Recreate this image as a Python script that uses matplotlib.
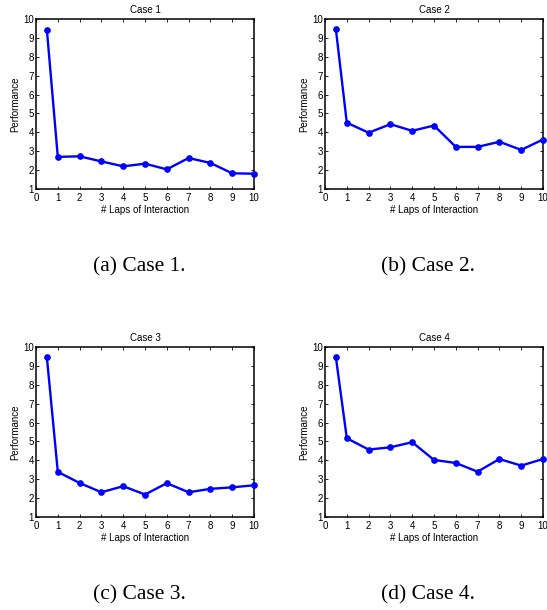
import matplotlib
matplotlib.use('Agg')
import matplotlib.pyplot as plt

# lap positions (first point is the initial value at 0.5)
laps = [0.5, 1, 2, 3, 4, 5, 6, 7, 8, 9, 10]

case1 = [9.42, 2.70, 2.73, 2.46, 2.20, 2.34, 2.04, 2.64, 2.38, 1.83, 1.81]
case2 = [9.45, 4.51, 3.98, 4.43, 4.08, 4.36, 3.23, 3.23, 3.50, 3.07, 3.62]
case3 = [9.45, 3.39, 2.80, 2.31, 2.63, 2.19, 2.79, 2.31, 2.49, 2.57, 2.68]
case4 = [9.45, 5.17, 4.57, 4.69, 4.96, 4.02, 3.86, 3.40, 4.07, 3.72, 4.07]

titles = ['Case 1', 'Case 2', 'Case 3', 'Case 4']
captions = ['(a) Case 1.', '(b) Case 2.', '(c) Case 3.', '(d) Case 4.']
xticks = list(range(0, 11))
yticks = list(range(1, 11))

plt.rcParams['font.family'] = ['Liberation Sans', 'DejaVu Sans']

W, H = 547, 610
fig = plt.figure(figsize=(W / 100, H / 100), dpi=100)

# axes boxes in pixels: left, top, right, bottom
boxes = [(36, 19, 254, 189), (325, 19, 543, 189),
         (36, 347, 254, 517), (325, 347, 543, 517)]
caption_pos = [(139, 267), (428, 267), (139, 595), (428, 595)]

for data, title, cap, box, cpos in zip([case1, case2, case3, case4], titles,
                                       captions, boxes, caption_pos):
    l, t, r, b = box
    ax = fig.add_axes([l / W, 1 - b / H, (r - l) / W, (b - t) / H])
    ax.plot(laps, data, color='#0000ff', linewidth=1.7, marker='o',
            markersize=3.8, clip_on=False, zorder=3)
    ax.set_xlim(0, 10)
    ax.set_ylim(1, 10)
    ax.set_xticks(xticks)
    ax.set_yticks(yticks)
    ax.tick_params(direction='in', length=2.5, width=0.6, labelsize=7,
                   top=True, right=True)
    ax.tick_params(axis='x', pad=3)
    ax.tick_params(axis='y', pad=1.5)
    for s in ax.spines.values():
        s.set_linewidth(1.1)
    ax.set_title(title, fontsize=7, pad=4)
    ax.set_xlabel('# Laps of Interaction', fontsize=7, labelpad=1.5)
    ax.set_ylabel('Performance', fontsize=7, labelpad=2)
    fig.text(cpos[0] / W, 1 - cpos[1] / H, cap, family='Liberation Serif',
             fontsize=15.5, ha='center', va='center')

fig.savefig('out.png', dpi=100)
